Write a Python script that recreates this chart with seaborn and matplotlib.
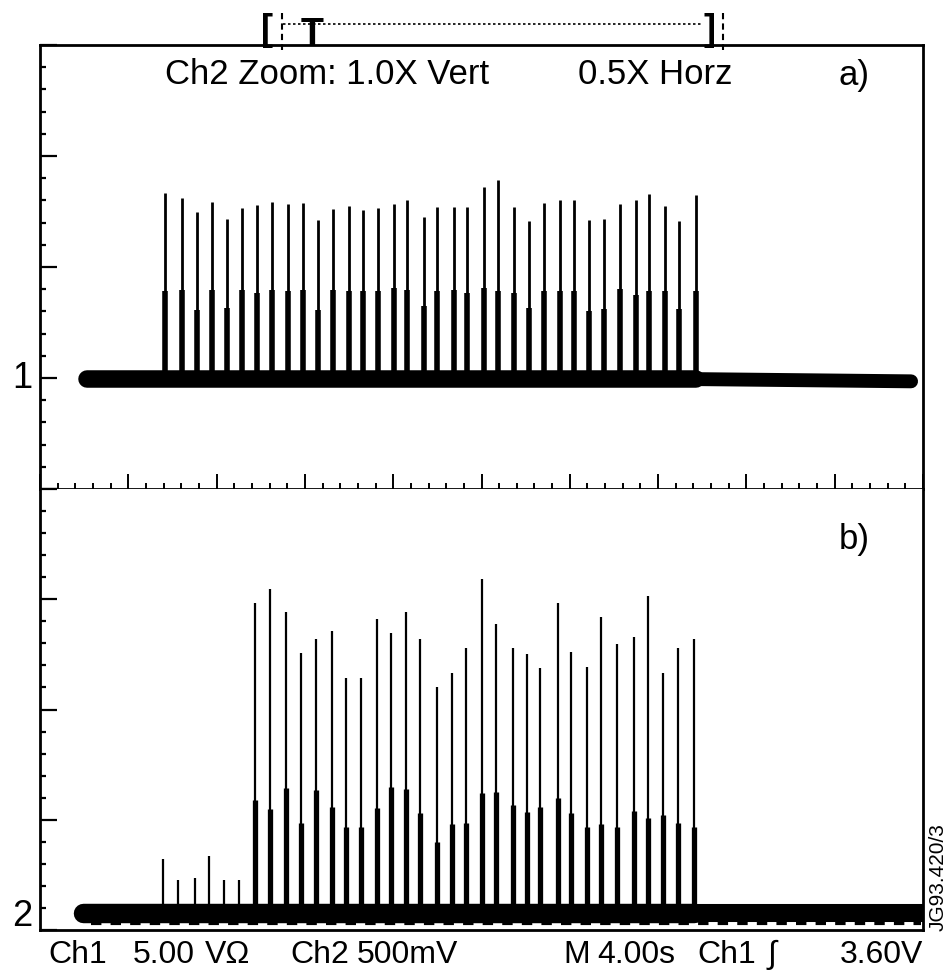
import numpy as np
import pandas as pd
import matplotlib
matplotlib.use("Agg")
import matplotlib.pyplot as plt
from matplotlib.lines import Line2D
from matplotlib.ticker import MultipleLocator, NullFormatter, NullLocator
import seaborn as sns

# ---------------- data ----------------
# time axis: 4.00 s/div, 10 divisions; vertical: screen divisions (0..8)
# Panel a (Ch1) pulses
t_a = [5.66, 6.43, 7.11, 7.79, 8.47, 9.15, 9.83, 10.51, 11.23, 11.91, 12.59, 13.27,
       14.00, 14.63, 15.31, 16.04, 16.63, 17.40, 17.98, 18.75, 19.34, 20.11, 20.75, 21.47,
       22.15, 22.83, 23.56, 24.19, 24.87, 25.55, 26.28, 27.00, 27.59, 28.31, 28.95, 29.72]
peak_a = [6.67, 6.62, 6.50, 6.59, 6.43, 6.53, 6.56, 6.59, 6.57, 6.58, 6.42, 6.52,
          6.55, 6.51, 6.53, 6.57, 6.60, 6.45, 6.54, 6.54, 6.54, 6.72, 6.78, 6.54,
          6.41, 6.58, 6.60, 6.60, 6.42, 6.43, 6.57, 6.60, 6.66, 6.55, 6.41, 6.65]
step_a = [5.78, 5.79, 5.61, 5.79, 5.63, 5.79, 5.77, 5.79, 5.78, 5.79, 5.61, 5.79,
          5.78, 5.78, 5.78, 5.81, 5.79, 5.65, 5.78, 5.79, 5.77, 5.81, 5.78, 5.77,
          5.63, 5.78, 5.78, 5.78, 5.60, 5.62, 5.80, 5.75, 5.78, 5.78, 5.62, 5.78]
# Panel a baseline trace (start, last pulse, end) and level
base_a_t = [2.13, 29.72, 39.46]
base_a_y = [4.99, 4.99, 4.97]
base_a_seg = ["active", "post"]

# Panel b (Ch2) pulses
t_b = [5.57, 6.25, 7.02, 7.66, 8.34, 9.02, 9.74, 10.42, 11.14, 11.82, 12.50, 13.23,
       13.86, 14.54, 15.27, 15.90, 16.58, 17.22, 17.98, 18.66, 19.30, 20.02, 20.66, 21.43,
       22.06, 22.65, 23.47, 24.05, 24.78, 25.41, 26.14, 26.91, 27.54, 28.22, 28.90, 29.63]
peak_b = [0.64, 0.45, 0.47, 0.67, 0.45, 0.45, 2.97, 3.09, 2.88, 2.51, 2.64, 2.71,
          2.29, 2.29, 2.82, 2.69, 2.88, 2.64, 2.20, 2.33, 2.56, 3.18, 2.78, 2.56,
          2.50, 2.38, 2.97, 2.52, 2.39, 2.84, 2.59, 2.66, 3.03, 2.33, 2.56, 2.64]
step_b = [np.nan, np.nan, np.nan, np.nan, np.nan, np.nan, 1.18, 1.10, 1.29, 0.97, 1.27, 1.12,
          0.93, 0.93, 1.11, 1.30, 1.28, 1.06, 0.80, 0.96, 0.97, 1.24, 1.25, 1.13,
          1.07, 1.12, 1.20, 1.06, 0.93, 0.96, 0.93, 1.08, 1.02, 1.04, 0.97, 0.93]
base_b_t = [1.95, 29.63, 40.5]
base_b_y = [0.154, 0.154, 0.154]
base_b_seg = ["active", "post"]
ripple_b_t = [2.3, 39.9]
ripple_b_y = [0.06, 0.06]

# ---------------- style ----------------
sns.set_style("white")
plt.rcParams["font.family"] = ["Liberation Sans", "DejaVu Sans"]
plt.rcParams["text.color"] = "black"

W, H = 948, 975
fig = plt.figure(figsize=(W / 100, H / 100), dpi=100)
L, R, T, B, M = 40, 923, 45, 930, 489
axA = fig.add_axes([L / W, (H - M) / H, (R - L) / W, (M - T) / H])
axB = fig.add_axes([L / W, (H - B) / H, (R - L) / W, (B - M) / H])


def segs(t, top, base, part):
    d = pd.DataFrame({"t": t, "top": top, "pulse": range(len(t))}).dropna()
    lo = d.assign(y=base)
    hi = d.assign(y=d["top"])
    out = pd.concat([lo, hi]).sort_values("pulse", kind="stable")
    out["part"] = part
    return out


def baseline_frame(ts, ys, names):
    rows = []
    for i, n in enumerate(names):
        rows.append({"t": ts[i], "y": ys[i], "seg": n})
        rows.append({"t": ts[i + 1], "y": ys[i + 1], "seg": n})
    return pd.DataFrame(rows)


def draw_panel(ax, t, peak, step, bt, by, bnames, base_sizes, thin, thick):
    bl = baseline_frame(bt, by, bnames)
    sns.lineplot(data=bl, x="t", y="y", size="seg", sizes=base_sizes, color="black",
                 estimator=None, sort=False, legend=False, ax=ax,
                 solid_capstyle="round")
    base = by[0]
    df = pd.concat([segs(t, peak, base, "thin"), segs(t, step, base, "thick")])
    sns.lineplot(data=df, x="t", y="y", units="pulse", size="part",
                 sizes={"thin": thin, "thick": thick}, color="black",
                 estimator=None, sort=False, legend=False, ax=ax,
                 solid_capstyle="butt")


draw_panel(axA, t_a, peak_a, step_a, base_a_t, base_a_y, base_a_seg,
           {"active": 12.6, "post": 10.0}, 2.0, 4.0)
draw_panel(axB, t_b, peak_b, step_b, base_b_t, base_b_y, base_b_seg,
           {"active": 14.0, "post": 13.0}, 1.6, 3.8)
# bumpy lower edge of the Ch2 trace
sns.lineplot(x=ripple_b_t, y=ripple_b_y, color="black", lw=3.0, ax=axB,
             linestyle=(0, (2.5, 2.2)), legend=False)

axA.set_xlim(0, 40)
axA.set_ylim(4, 8)
axB.set_xlim(0, 40)
axB.set_ylim(0, 4)

for ax in (axA, axB):
    ax.set_xlabel("")
    ax.set_ylabel("")
    for s in ax.spines.values():
        s.set_visible(True)
        s.set_color("black")
        s.set_linewidth(2.0)
    ax.yaxis.set_major_locator(MultipleLocator(1))
    ax.yaxis.set_minor_locator(MultipleLocator(0.2))
    ax.yaxis.set_major_formatter(NullFormatter())
    ax.tick_params(axis="y", which="major", direction="in", length=12, width=1.6,
                   left=True, right=False, labelleft=False, color="black")
    ax.tick_params(axis="y", which="minor", direction="in", length=4.5, width=1.6,
                   left=True, right=False, color="black")
    ax.set_facecolor("white")

axA.xaxis.set_major_locator(MultipleLocator(4))
axA.xaxis.set_minor_locator(MultipleLocator(0.8))
axA.xaxis.set_major_formatter(NullFormatter())
axA.tick_params(axis="x", which="major", direction="in", length=11, width=1.4,
                bottom=True, top=False, labelbottom=False, color="black")
axA.tick_params(axis="x", which="minor", direction="in", length=4.5, width=1.4,
                bottom=True, top=False, color="black")
axB.xaxis.set_major_locator(NullLocator())
axB.xaxis.set_minor_locator(NullLocator())
axB.tick_params(axis="x", which="both", bottom=False, top=False, labelbottom=False)
axB.spines["top"].set_visible(False)


def fx(px):
    return px / W


def fy(py):
    return 1 - py / H


# channel reference markers
fig.text(fx(22), fy(378), "1", fontsize=26, ha="center", va="center")
fig.text(fx(22), fy(917), "2", fontsize=26, ha="center", va="center")

# header and panel labels
fig.text(fx(165), fy(75), "Ch2 Zoom: 1.0X Vert", fontsize=25, ha="left", va="center")
fig.text(fx(578), fy(75), "0.5X Horz", fontsize=25, ha="left", va="center")
fig.text(fx(870), fy(75), "a)", fontsize=25, ha="right", va="center")
fig.text(fx(870), fy(540), "b)", fontsize=25, ha="right", va="center")

# bottom status line
for x0, s in [(48, "Ch1"), (133, "5.00"), (205, "VΩ"), (290, "Ch2"), (357, "500mV"),
              (563, "M"), (597, "4.00s"), (697, "Ch1"), (767, "∫")]:
    fig.text(fx(x0), fy(963), s, fontsize=23, ha="left", va="baseline")
fig.text(fx(923), fy(963), "3.60V", fontsize=23, ha="right", va="baseline")

# figure id
fig.text(fx(938), fy(877), "JG93.420/3", fontsize=15, rotation=90,
         ha="center", va="center", family=["Liberation Sans Narrow", "Liberation Sans"])

# trigger bracket on top
fig.text(fx(267), fy(31), "[", fontsize=26, fontweight="bold", ha="center", va="center")
fig.text(fx(709), fy(31), "]", fontsize=26, fontweight="bold", ha="center", va="center")
fig.text(fx(312), fy(35), "T", fontsize=27, fontweight="bold", ha="center", va="center")
fig.add_artist(Line2D([fx(283), fx(703)], [fy(24), fy(24)], color="black",
                      lw=1.2, linestyle=(0, (1.5, 1.5))))
for xv in (282, 723):
    fig.add_artist(Line2D([fx(xv), fx(xv)], [fy(13), fy(50)], color="black",
                          lw=1.5, linestyle=(0, (3, 2))))

fig.savefig("out.png", dpi=100, facecolor="white")
